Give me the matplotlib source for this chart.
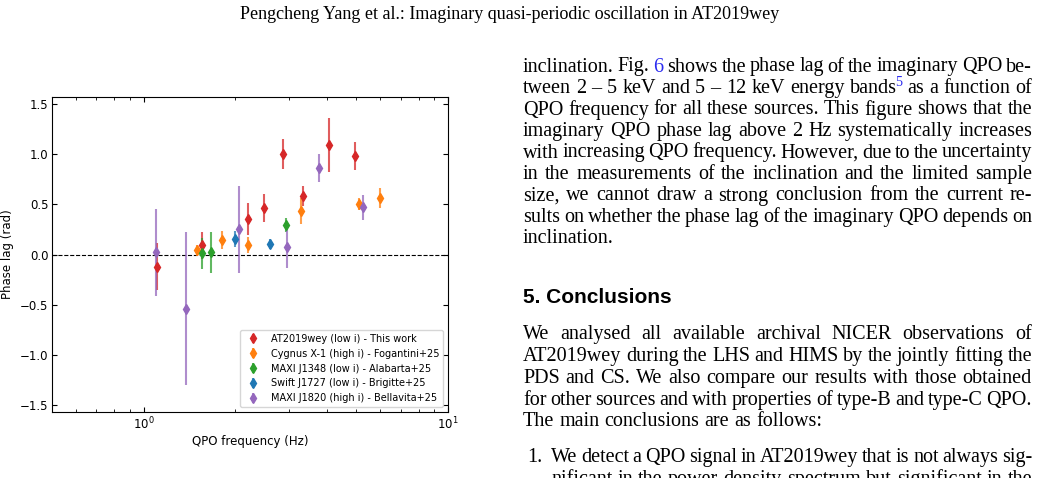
import numpy as np
import matplotlib
matplotlib.use("Agg")
import matplotlib.pyplot as plt
from matplotlib.transforms import Affine2D

W, H = 1040, 478

# --- data (QPO frequency in Hz, phase lag in rad, 1-sigma error)
at_f = [1.11, 1.55, 2.21, 2.48, 2.88, 3.33, 4.05, 4.96]
at_lag = [-0.12, 0.09, 0.35, 0.46, 1.00, 0.58, 1.09, 0.98]
at_err = [0.23, 0.13, 0.16, 0.14, 0.15, 0.10, 0.27, 0.14]

cyg_f = [1.50, 1.81, 2.20, 3.30, 5.10, 6.00]
cyg_lag = [0.04, 0.14, 0.09, 0.43, 0.50, 0.56]
cyg_err = [0.05, 0.09, 0.08, 0.13, 0.06, 0.10]

j1348_f = [1.56, 1.67, 2.93]
j1348_lag = [0.01, 0.02, 0.29]
j1348_err = [0.15, 0.20, 0.07]

j1727_f = [2.00, 2.60]
j1727_lag = [0.15, 0.10]
j1727_err = [0.08, 0.05]

j1820_f = [1.10, 1.38, 2.06, 2.95, 3.77, 5.24]
j1820_lag = [0.02, -0.54, 0.25, 0.07, 0.86, 0.47]
j1820_err = [0.43, 0.76, 0.43, 0.20, 0.14, 0.125]

labels = ["AT2019wey (low i) - This work",
          "Cygnus X-1 (high i) - Fogantini+25",
          "MAXI J1348 (low i) - Alabarta+25",
          "Swift J1727 (low i) - Brigitte+25",
          "MAXI J1820 (high i) - Bellavita+25"]

header = "Pengcheng Yang et al.: Imaginary quasi-periodic oscillation in AT2019wey"
para1 = [
    "inclination. Fig. [6] shows the phase lag of the imaginary QPO be-",
    "tween 2 \u2013 5 keV and 5 \u2013 12 keV energy bands^5 as a function of",
    "QPO frequency for all these sources. This figure shows that the",
    "imaginary QPO phase lag above 2 Hz systematically increases",
    "with increasing QPO frequency. However, due to the uncertainty",
    "in the measurements of the inclination and the limited sample",
    "size, we cannot draw a strong conclusion from the current re-",
    "sults on whether the phase lag of the imaginary QPO depends on",
    "inclination.",
]
heading = "5. Conclusions"
para2 = [
    "We analysed all available archival NICER observations of",
    "AT2019wey during the LHS and HIMS by the jointly fitting the",
    "PDS and CS. We also compare our results with those obtained",
    "for other sources and with properties of type-B and type-C QPO.",
    "The main conclusions are as follows:",
]
item1 = [
    "We detect a QPO signal in AT2019wey that is not always sig-",
    "nificant in the power density spectrum but significant in the",
]

fig = plt.figure(figsize=(W / 100, H / 100), dpi=100)
px = Affine2D().scale(1 / W, -1 / H).translate(0, 1) + fig.transFigure
r = fig.canvas.get_renderer()

serif = "Liberation Serif"
body = 14.5
blue = "#2b2bf0"


def width(s, size, family=serif, weight="normal"):
    t = fig.text(0, 0, s, fontsize=size, family=family, weight=weight)
    w = t.get_window_extent(r).width
    t.remove()
    return w


def draw_line(line, x0, x1, y, justify):
    pieces = []
    for w in line.split():
        if w.startswith("[") and w.endswith("]"):
            segs = [(w[1:-1], blue, body, 0, 0)]
        elif "^" in w:
            a, b = w.split("^")
            segs = [(a, "black", body, 0, 0), (b, blue, body * 0.7, 7, -2)]
        else:
            segs = [(w, "black", body, 0, 0)]
        pieces.append(segs)
    widths = [sum(width(s, fs) + dx for s, c, fs, dy, dx in segs) for segs in pieces]
    if justify and len(pieces) > 1:
        gap = (x1 - x0 - sum(widths)) / (len(pieces) - 1)
    else:
        gap = 0.25 * body * 100 / 72
    x = x0
    for segs, w in zip(pieces, widths):
        for s, c, fs, dy, dx in segs:
            x += dx
            fig.text(x, y - dy, s, fontsize=fs, family=serif, color=c,
                     va="baseline", ha="left", transform=px)
            x += width(s, fs)
        x += gap


def paragraph(lines, x0, x1, y0, dy, last_justified=False):
    for i, line in enumerate(lines):
        just = (i < len(lines) - 1) or last_justified
        draw_line(line, x0, x1, y0 + i * dy, just)


# header and right column text
fig.text(510, 19, header, fontsize=13, family=serif, ha="center",
         va="baseline", transform=px)
paragraph(para1, 523, 1032, 71.5, 21.5)
fig.text(523, 303, heading, fontsize=15, family="Liberation Sans",
         weight="bold", va="baseline", transform=px)
paragraph(para2, 523, 1032, 339.5, 21.7)
fig.text(527, 462.5, "1.", fontsize=body, family=serif, va="baseline", transform=px)
paragraph(item1, 551, 1032, 462.5, 21.7, last_justified=True)

# chart
ax = fig.add_axes([52 / W, 1 - 412 / H, (448 - 52) / W, (412 - 97) / H])
ax.axhline(0, color="black", ls="--", lw=0.8, zorder=1)

series = [
    (at_f, at_lag, at_err, "C3"),
    (cyg_f, cyg_lag, cyg_err, "C1"),
    (j1348_f, j1348_lag, j1348_err, "C2"),
    (j1727_f, j1727_lag, j1727_err, "C0"),
    (j1820_f, j1820_lag, j1820_err, "C4"),
]
for (f, lag, err, col), lab in zip(series, labels):
    eb = ax.errorbar(f, lag, yerr=err, fmt="d", color=col, ms=5.5,
                     elinewidth=1.5, capsize=0, label=lab)
    eb[2][0].set_alpha(0.75)

ax.set_xscale("log")
ax.set_xlim(0.5, 10)
ax.set_ylim(-np.pi / 2, np.pi / 2)
ax.set_yticks([-1.5, -1.0, -0.5, 0.0, 0.5, 1.0, 1.5])
ax.tick_params(which="both", direction="in", top=True, right=True,
               labelsize=8.5, pad=2.5)
ax.set_xlabel("QPO frequency (Hz)", fontsize=8.5, labelpad=2)
ax.set_ylabel("Phase lag (rad)", fontsize=8.5, labelpad=4)
ax.legend(loc="lower right", fontsize=7)

fig.savefig("out.png", dpi=100)
